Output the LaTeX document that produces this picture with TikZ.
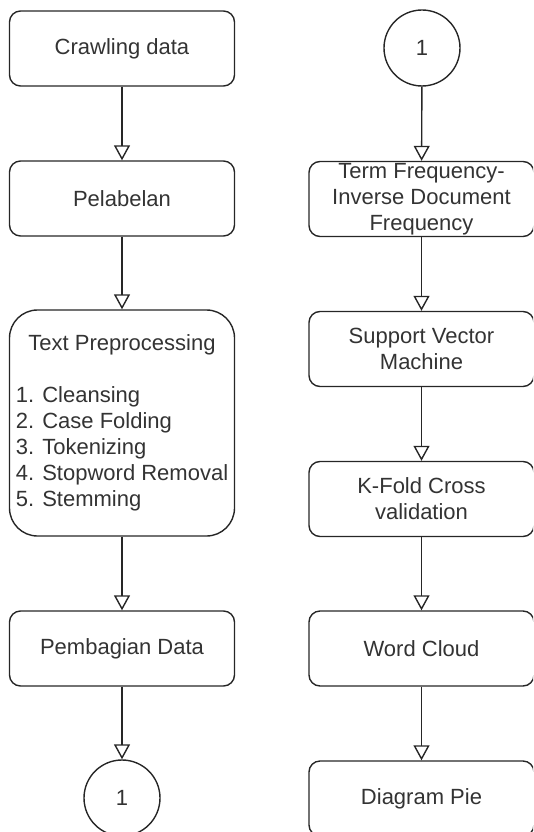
\documentclass[tikz,border=0pt]{standalone}
\usepackage{fontspec}
\setmainfont{Liberation Sans}
\usetikzlibrary{arrows.meta}
\definecolor{linec}{HTML}{262626}
\definecolor{textc}{HTML}{333333}
\tikzset{
  stepbox/.style={draw=linec, line width=1.4pt, rounded corners=11pt, minimum width=225pt, minimum height=75pt, inner sep=0pt, text=textc, align=center, font=\fontsize{22}{26}\selectfont},
  connector/.style={circle, draw=linec, line width=1.4pt, minimum size=76pt, inner sep=0pt, text=textc, font=\fontsize{22}{26}\selectfont},
  flow/.style={draw=linec, line width=1.4pt, -{Triangle[open, length=15pt, width=16pt]}}
}
\begin{document}
\begin{tikzpicture}[x=1pt, y=-1pt]
\useasboundingbox (0,0) rectangle (533,832);
\begin{scope}
\clip (0,0) rectangle (533,832);
% left column
\node[stepbox] (crawl) at (122,48.5) {Crawling data};
\node[stepbox] (pel) at (122,198.5) {Pelabelan};
\node[stepbox, minimum height=226pt, rounded corners=28pt] (prep) at (122,423) {\begin{tabular}{@{}l@{}}\multicolumn{1}{@{}c@{}}{Text Preprocessing}\\ \\ 1. Cleansing\\ 2. Case Folding\\ 3. Tokenizing\\ 4. Stopword Removal\\ 5. Stemming\end{tabular}};
\node[stepbox] (pemb) at (122,648.5) {Pembagian Data};
\node[connector] (c1) at (122,798) {1};
% right column
\node[connector] (c2) at (422,48) {1};
\node[stepbox, label={[text=textc, align=center, font=\fontsize{22}{26}\selectfont]center:Term Frequency-\\Inverse Document\\Frequency}] (tfidf) at (421.5,199) {};
\node[stepbox] (svm) at (421.5,349) {Support Vector\\Machine};
\node[stepbox] (kfold) at (421.5,499) {K-Fold Cross\\validation};
\node[stepbox] (wc) at (421.5,648.5) {Word Cloud};
\node[stepbox] (pie) at (421.5,798.5) {Diagram Pie};
% connectors
\draw[flow] (crawl) -- (pel);
\draw[flow] (pel) -- (prep);
\draw[flow] (prep) -- (pemb);
\draw[flow] (pemb) -- (c1);
\draw[flow] (c2) -- (tfidf);
\draw[flow] (tfidf) -- (svm);
\draw[flow] (svm) -- (kfold);
\draw[flow] (kfold) -- (wc);
\draw[flow] (wc) -- (pie);
\end{scope}
\end{tikzpicture}
\end{document}
